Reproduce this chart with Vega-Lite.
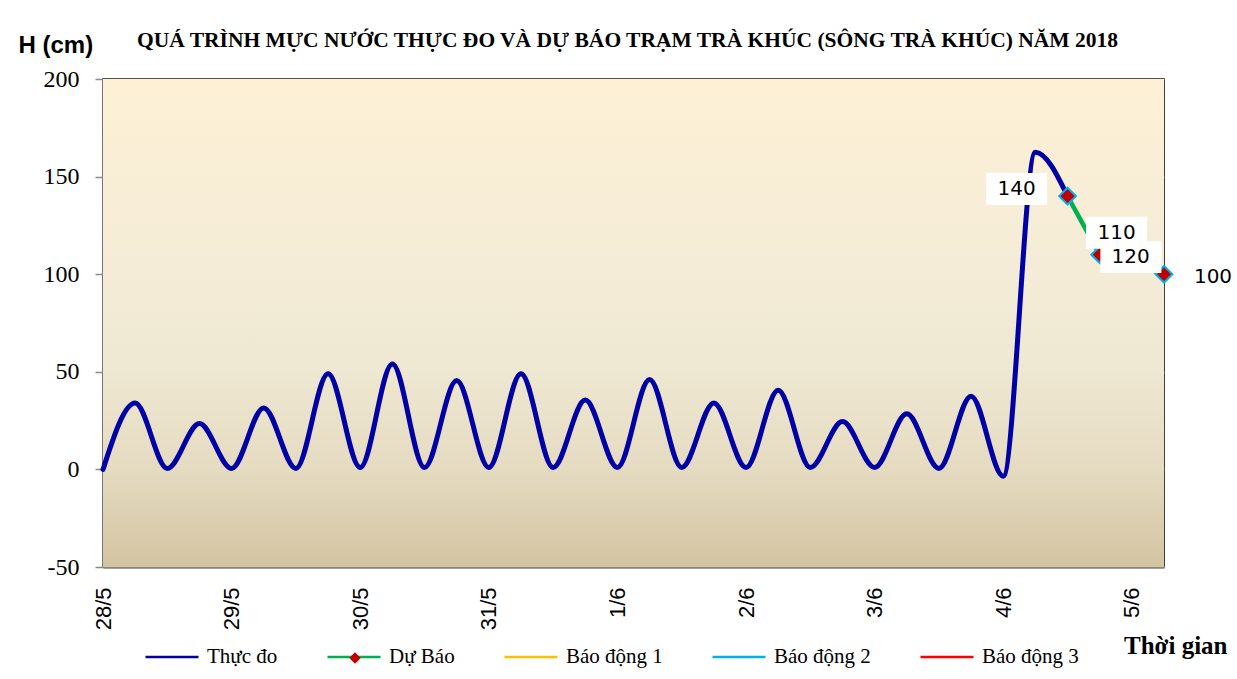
{
  "$schema": "https://vega.github.io/schema/vega-lite/v6.json",
  "width": 1061,
  "height": 488,
  "autosize": {"type": "none"},
  "padding": {"left": 103, "top": 79, "right": 73, "bottom": 112},
  "background": "#ffffff",
  "title": {
    "text": "QUÁ TRÌNH MỰC NƯỚC THỰC ĐO VÀ DỰ BÁO TRẠM TRÀ KHÚC (SÔNG TRÀ KHÚC) NĂM 2018",
    "font": "Liberation Serif",
    "fontSize": 21.5,
    "fontWeight": "bold",
    "color": "#000000",
    "anchor": "middle",
    "offset": 28,
    "dy": 46,
    "dx": -6
  },
  "datasets": {
    "thucdo": [
      {"time": "2018-05-28T00:00:00Z", "h": 0},
      {"time": "2018-05-28T06:00:00Z", "h": 34},
      {"time": "2018-05-28T12:00:00Z", "h": 0.5},
      {"time": "2018-05-28T18:00:00Z", "h": 23.5},
      {"time": "2018-05-29T00:00:00Z", "h": 0.5},
      {"time": "2018-05-29T06:00:00Z", "h": 31.5},
      {"time": "2018-05-29T12:00:00Z", "h": 0.5},
      {"time": "2018-05-29T18:00:00Z", "h": 49},
      {"time": "2018-05-30T00:00:00Z", "h": 1},
      {"time": "2018-05-30T06:00:00Z", "h": 54},
      {"time": "2018-05-30T12:00:00Z", "h": 1},
      {"time": "2018-05-30T18:00:00Z", "h": 45.5},
      {"time": "2018-05-31T00:00:00Z", "h": 1},
      {"time": "2018-05-31T06:00:00Z", "h": 49},
      {"time": "2018-05-31T12:00:00Z", "h": 1},
      {"time": "2018-05-31T18:00:00Z", "h": 35.5},
      {"time": "2018-06-01T00:00:00Z", "h": 1},
      {"time": "2018-06-01T06:00:00Z", "h": 46},
      {"time": "2018-06-01T12:00:00Z", "h": 1},
      {"time": "2018-06-01T18:00:00Z", "h": 34},
      {"time": "2018-06-02T00:00:00Z", "h": 1},
      {"time": "2018-06-02T06:00:00Z", "h": 40.5},
      {"time": "2018-06-02T12:00:00Z", "h": 1},
      {"time": "2018-06-02T18:00:00Z", "h": 24.5},
      {"time": "2018-06-03T00:00:00Z", "h": 1},
      {"time": "2018-06-03T06:00:00Z", "h": 28.5},
      {"time": "2018-06-03T12:00:00Z", "h": 0.5},
      {"time": "2018-06-03T18:00:00Z", "h": 37.5},
      {"time": "2018-06-04T00:00:00Z", "h": -3.5},
      {"time": "2018-06-04T06:00:00Z", "h": 162.5},
      {"time": "2018-06-04T12:00:00Z", "h": 140}
    ],
    "dubao": [
      {"time": "2018-06-04T12:00:00Z", "h": 140},
      {"time": "2018-06-04T18:00:00Z", "h": 110},
      {"time": "2018-06-05T06:00:00Z", "h": 100}
    ],
    "nhan": [
      {"time": "2018-06-04T12:00:00Z", "h": 140, "label": "140"},
      {"time": "2018-06-04T18:00:00Z", "h": 110, "label": "110"},
      {"time": "2018-06-04T18:00:00Z", "h": 110, "label": "120"},
      {"time": "2018-06-05T06:00:00Z", "h": 100, "label": "100"}
    ]
  },
  "layer": [
    {
      "data": {"values": [{}]},
      "mark": {
        "type": "rect",
        "color": {
          "gradient": "linear",
          "x1": 0, "y1": 0, "x2": 0, "y2": 1,
          "stops": [
            {"offset": 0, "color": "#fdf0d5"},
            {"offset": 0.4, "color": "#f4ecd7"},
            {"offset": 0.6, "color": "#eee7d1"},
            {"offset": 0.8, "color": "#e5dbc1"},
            {"offset": 1, "color": "#d3c4a1"}
          ]
        }
      },
      "encoding": {
        "x": {"datum": {"year": 2018, "month": 5, "date": 28, "hours": 0, "utc": true}, "type": "temporal"},
        "x2": {"datum": {"year": 2018, "month": 6, "date": 5, "hours": 6, "utc": true}},
        "y": {"datum": 200, "type": "quantitative"},
        "y2": {"datum": -50}
      }
    },
    {
      "data": {"name": "thucdo"},
      "mark": {"type": "line", "interpolate": "monotone", "strokeWidth": 5, "strokeCap": "round", "strokeJoin": "round"},
      "encoding": {
        "x": {
          "field": "time",
          "type": "temporal",
          "scale": {
            "type": "utc",
            "domain": [
              {"year": 2018, "month": 5, "date": 28, "hours": 0, "utc": true},
              {"year": 2018, "month": 6, "date": 5, "hours": 6, "utc": true}
            ]
          },
          "axis": {
            "values": [1527465600000, 1527487200000, 1527508800000, 1527530400000, 1527552000000, 1527573600000, 1527595200000, 1527616800000, 1527638400000, 1527660000000, 1527681600000, 1527703200000, 1527724800000, 1527746400000, 1527768000000, 1527789600000, 1527811200000, 1527832800000, 1527854400000, 1527876000000, 1527897600000, 1527919200000, 1527940800000, 1527962400000, 1527984000000, 1528005600000, 1528027200000, 1528048800000, 1528070400000, 1528092000000, 1528113600000, 1528135200000, 1528156800000, 1528178400000],
            "labelExpr": "utchours(datum.value) == 0 ? utcFormat(datum.value, '%-d/%-m') : ''",
            "labelAngle": 270,
            "labelFont": "Liberation Sans",
            "labelFontSize": 22,
            "labelColor": "#000000",
            "labelOverlap": false,
            "labelFlush": false,
            "labelPadding": 26,
            "tickSize": -6,
            "tickColor": "#8a8a8a",
            "tickWidth": 1.5,
            "domainColor": "#8a8a8a",
            "domainWidth": 2.5,
            "grid": false,
            "title": "Thời gian",
            "titleFont": "Liberation Serif",
            "titleFontSize": 25,
            "titleFontWeight": "bold",
            "titleColor": "#000000",
            "titleX": 1124,
            "titleY": 86,
            "titleAlign": "right",
            "titleBaseline": "alphabetic",
            "titleAngle": 0
          }
        },
        "y": {
          "field": "h",
          "type": "quantitative",
          "scale": {"domain": [-50, 200], "nice": false, "zero": false},
          "axis": {
            "values": [-50, 0, 50, 100, 150, 200],
            "labelExpr": "datum.value < 0 ? '-' + abs(datum.value) : '' + datum.value",
            "grid": true,
            "gridColor": "#8c8c8c",
            "gridWidth": 1.5,
            "tickSize": 8,
            "tickColor": "#8a8a8a",
            "tickWidth": 1.5,
            "domainColor": "#8a8a8a",
            "domainWidth": 2.5,
            "labelFont": "Liberation Serif",
            "labelFontSize": 24,
            "labelColor": "#000000",
            "labelPadding": 16,
            "labelFlush": false,
            "title": "H (cm)",
            "titleFont": "Liberation Sans",
            "titleFontSize": 24,
            "titleFontWeight": "bold",
            "titleColor": "#000000",
            "titleAngle": 0,
            "titleAlign": "left",
            "titleBaseline": "middle",
            "titleX": -85,
            "titleY": -34
          }
        },
        "color": {
          "datum": "Thực đo",
          "type": "nominal",
          "scale": {
            "domain": ["Thực đo", "Dự Báo", "Báo động 1", "Báo động 2", "Báo động 3"],
            "range": ["#0000a6", "#00b050", "#ffc000", "#00b0f0", "#ff0000"]
          },
          "legend": {
            "orient": "none",
            "legendX": 41,
            "legendY": 550,
            "direction": "horizontal",
            "title": null,
            "symbolType": "stroke",
            "symbolSize": 2809,
            "symbolStrokeWidth": 2.5,
            "labelFont": "Liberation Serif",
            "labelFontSize": 21,
            "labelColor": "#000000",
            "labelOffset": 7,
            "labelLimit": 0,
            "columnPadding": 44,
            "zindex": 1
          }
        }
      }
    },
    {
      "data": {"name": "dubao"},
      "mark": {"type": "line", "strokeWidth": 4.5, "strokeCap": "round"},
      "encoding": {
        "x": {"field": "time", "type": "temporal"},
        "y": {"field": "h", "type": "quantitative"},
        "color": {"datum": "Dự Báo", "type": "nominal"}
      }
    },
    {
      "data": {"name": "dubao"},
      "mark": {"type": "point", "filled": true, "fill": "#c00000", "stroke": "#00b0f0", "strokeWidth": 2, "size": 280, "opacity": 1, "clip": false},
      "encoding": {
        "x": {"field": "time", "type": "temporal"},
        "y": {"field": "h", "type": "quantitative"},
        "shape": {
          "datum": "Dự Báo",
          "type": "nominal",
          "scale": {"domain": ["Dự Báo"], "range": ["diamond"]},
          "legend": {
            "orient": "none",
            "legendX": 245,
            "legendY": 572,
            "title": null,
            "labelExpr": "''",
            "symbolSize": 130,
            "symbolFillColor": "#c00000",
            "symbolStrokeColor": "#00b0f0",
            "symbolStrokeWidth": 2,
            "symbolOpacity": 1,
            "labelOffset": 0,
            "zindex": 2
          }
        }
      }
    },
    {
      "data": {"name": "nhan"},
      "transform": [{"filter": "datum.label == '140'"}],
      "encoding": {
        "x": {"field": "time", "type": "temporal"},
        "y": {"field": "h", "type": "quantitative"}
      },
      "layer": [
        {"mark": {"type": "point", "shape": "M-2.626,-0.742H-0.658V0.29H-2.626Z", "filled": true, "fill": "#ffffff", "strokeWidth": 0, "size": 3844, "opacity": 1, "clip": false}},
        {"mark": {"type": "text", "font": "DejaVu Sans", "fontSize": 20, "color": "#000000", "align": "center", "baseline": "middle", "dx": -51, "dy": -7, "clip": false}, "encoding": {"text": {"field": "label"}}}
      ]
    },
    {
      "data": {"name": "nhan"},
      "transform": [{"filter": "datum.label == '110'"}],
      "encoding": {
        "x": {"field": "time", "type": "temporal"},
        "y": {"field": "h", "type": "quantitative"}
      },
      "layer": [
        {"mark": {"type": "point", "shape": "M-0.439,-1.224H1.529V-0.192H-0.439Z", "filled": true, "fill": "#ffffff", "strokeWidth": 0, "size": 3844, "opacity": 1, "clip": false}},
        {"mark": {"type": "text", "font": "DejaVu Sans", "fontSize": 20, "color": "#000000", "align": "center", "baseline": "middle", "dx": 17, "dy": -22, "clip": false}, "encoding": {"text": {"field": "label"}}}
      ]
    },
    {
      "data": {"name": "nhan"},
      "transform": [{"filter": "datum.label == '120'"}],
      "encoding": {
        "x": {"field": "time", "type": "temporal"},
        "y": {"field": "h", "type": "quantitative"}
      },
      "layer": [
        {"mark": {"type": "point", "shape": "M0.022,-0.437H1.99V0.595H0.022Z", "filled": true, "fill": "#ffffff", "strokeWidth": 0, "size": 3844, "opacity": 1, "clip": false}},
        {"mark": {"type": "text", "font": "DejaVu Sans", "fontSize": 20, "color": "#000000", "align": "center", "baseline": "middle", "dx": 31, "dy": 2.5, "clip": false}, "encoding": {"text": {"field": "label"}}}
      ]
    },
    {
      "data": {"name": "nhan"},
      "transform": [{"filter": "datum.label == '100'"}],
      "mark": {"type": "text", "font": "DejaVu Sans", "fontSize": 20, "color": "#000000", "align": "center", "baseline": "middle", "dx": 49, "dy": 3, "clip": false},
      "encoding": {
        "x": {"field": "time", "type": "temporal"},
        "y": {"field": "h", "type": "quantitative"},
        "text": {"field": "label"}
      }
    }
  ],
  "config": {
    "view": {"stroke": "#000000", "strokeWidth": 1.5}
  }
}
